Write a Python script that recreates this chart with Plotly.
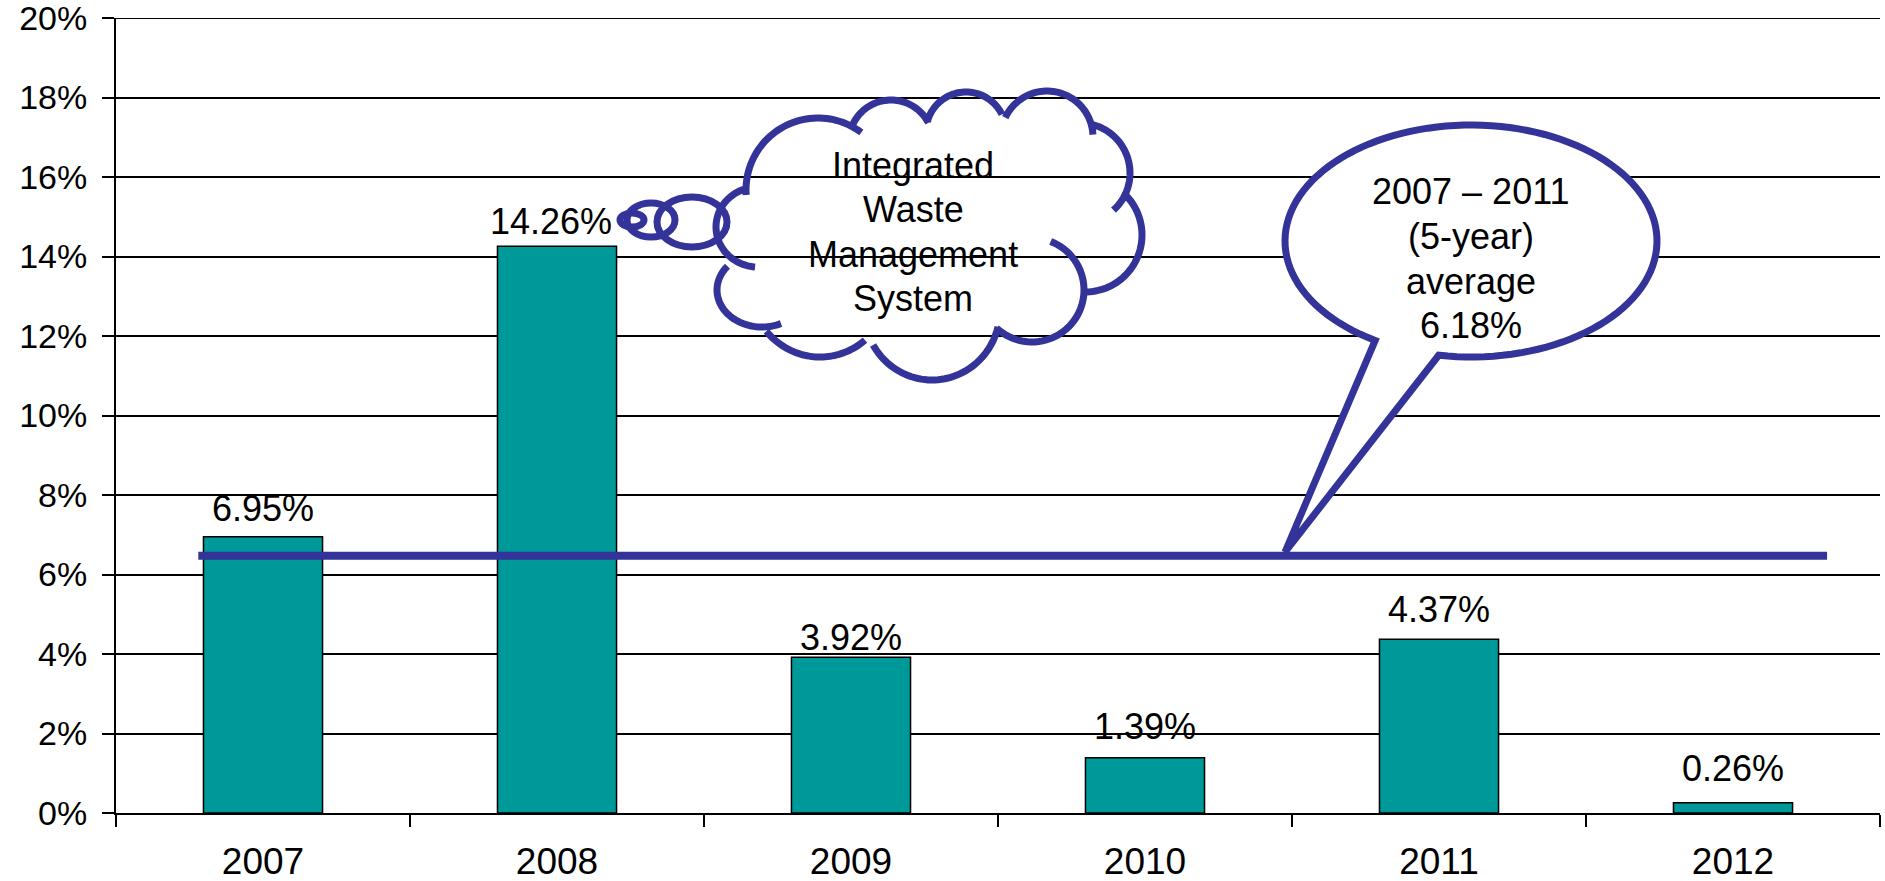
import math
import plotly.graph_objects as go

# Chart data
years = ['2007', '2008', '2009', '2010', '2011', '2012']
growth = [6.95, 14.26, 3.92, 1.39, 4.37, 0.26]
growth_labels = ['6.95%', '14.26%', '3.92%', '1.39%', '4.37%', '0.26%']
y_ticks = [0, 2, 4, 6, 8, 10, 12, 14, 16, 18, 20]
y_tick_text = ['0%', '2%', '4%', '6%', '8%', '10%', '12%', '14%', '16%', '18%', '20%']

# 5-year average line (level as drawn on the slide)
average_level = 6.47
average_span = [-0.22, 5.32]

cloud_text = ['Integrated', 'Waste', 'Management', 'System']
bubble_text = ['2007 \u2013 2011', '(5-year)', 'average', '6.18%']

# Styling
TEAL = '#009999'
NAVY = '#333399'
FONT = 'Liberation Sans, Arial, sans-serif'
W, H = 1885, 881
L, R, T, B = 116, 1880, 18, 813   # plot area on the page
label_shift = [(0, 6), (-6, 2), (0, -3), (0, 9), (0, 7), (0, 12)]


def to_paper(x, y):
    """Pixel position on the page -> paper coordinates."""
    return (x - L) / (R - L), (B - y) / (B - T)


def arc(cx, cy, rx, ry, a0, a1, n=48):
    pts = []
    for i in range(n + 1):
        a = math.radians(a0 + (a1 - a0) * i / n)
        pts.append(to_paper(cx + rx * math.cos(a), cy + ry * math.sin(a)))
    return pts


def path_of(pts, close=False):
    s = 'M {:.5f},{:.5f} '.format(*pts[0])
    s += ' '.join('L {:.5f},{:.5f}'.format(*p) for p in pts[1:])
    return s + (' Z' if close else '')


def text_lines(lines, x, y_first, step):
    for k, line in enumerate(lines):
        px, py = to_paper(x, y_first + k * step)
        fig.add_annotation(xref='paper', yref='paper', x=px, y=py, text=line,
                           showarrow=False, xanchor='center', yanchor='middle',
                           font=dict(size=36, family=FONT, color='black'))


fig = go.Figure()
fig.add_trace(go.Bar(
    x=years, y=growth, width=0.405,
    marker=dict(color=TEAL, line=dict(color='black', width=1.5)),
    hoverinfo='skip',
))

# value labels above bars (x given as category index)
for i, (v, lab, (dx, dy)) in enumerate(zip(growth, growth_labels, label_shift)):
    fig.add_annotation(xref='x', yref='y', x=i, y=v, text=lab, showarrow=False,
                       yanchor='bottom', xshift=dx, yshift=dy,
                       font=dict(size=36, family=FONT, color='black'))

shapes = []
# top gridline at 20%
shapes.append(dict(type='line', xref='paper', yref='y', x0=0, x1=1, y0=y_ticks[-1], y1=y_ticks[-1],
                   line=dict(color='black', width=2), layer='below'))
# average line
shapes.append(dict(type='line', xref='x', yref='y', x0=average_span[0], x1=average_span[1],
                   y0=average_level, y1=average_level, line=dict(color=NAVY, width=8)))

# thought cloud bumps (cx, cy, rx, ry, start, end) in page pixels
bumps = [
    (758, 227, 42, 40, 254, 94),
    (818, 190, 72, 72, 176, 307),
    (891, 142, 42, 42, 202, 333),
    (966, 132, 40, 40, 195, 334),
    (1047, 137, 46, 46, 205, 357),
    (1080, 173, 50, 50, 282, 408),
    (1085, 235, 57, 57, 312, 448),
    (1032, 290, 52, 52, 291, 493),
    (932, 310, 68, 70, 14, 150),
    (820, 285, 70, 72, 50, 140),
    (762, 290, 45, 37, 220, 65),
]
cloud_path = ' '.join(path_of(arc(*b)) for b in bumps)
shapes.append(dict(type='path', xref='paper', yref='paper', path=cloud_path,
                   line=dict(color=NAVY, width=7), fillcolor='rgba(0,0,0,0)'))

# small thought circles
for cx, cy, rx, ry in [(632, 220, 12, 7), (651, 220, 24, 17), (692, 222, 35, 25)]:
    x0, y0 = to_paper(cx - rx, cy + ry)
    x1, y1 = to_paper(cx + rx, cy - ry)
    shapes.append(dict(type='circle', xref='paper', yref='paper', x0=x0, x1=x1, y0=y0, y1=y1,
                       line=dict(color=NAVY, width=7)))

# speech bubble with tail pointing at the average line
bub = arc(1471, 241, 186, 116, 121, 460, n=120)
bub.append(to_paper(1285, 552))
shapes.append(dict(type='path', xref='paper', yref='paper', path=path_of(bub, close=True),
                   line=dict(color=NAVY, width=7), fillcolor='white'))

fig.update_layout(shapes=shapes)

text_lines(cloud_text, 913, 166, 44)
text_lines(bubble_text, 1471, 192, 44.5)

fig.update_layout(
    width=W, height=H,
    margin=dict(l=L, r=W - R, t=T, b=H - B),
    paper_bgcolor='white', plot_bgcolor='white',
    font=dict(family=FONT, size=36, color='black'),
    showlegend=False,
    bargap=0.595,
)
fig.update_xaxes(
    type='category', range=[-0.5, 5.5], tickson='boundaries',
    ticks='outside', ticklen=12, tickwidth=2, tickcolor='black',
    showline=True, linecolor='black', linewidth=2, showgrid=False,
    tickfont=dict(size=37), ticklabelstandoff=15, automargin=False,
)
fig.update_yaxes(
    range=[0, 20], tickvals=y_ticks, ticktext=y_tick_text,
    ticks='outside', ticklen=12, tickwidth=2, tickcolor='black',
    showline=True, linecolor='black', linewidth=2,
    showgrid=True, gridcolor='black', gridwidth=2, zeroline=False,
    tickfont=dict(size=34), ticklabelstandoff=8, automargin=False,
    ticklabeloverflow='allow',
)

# drop the default 8px body margin so the figure sits at the page corner
fig.write_html('out.html', config={'displayModeBar': False},
               post_script="document.body.style.margin = '0';")
